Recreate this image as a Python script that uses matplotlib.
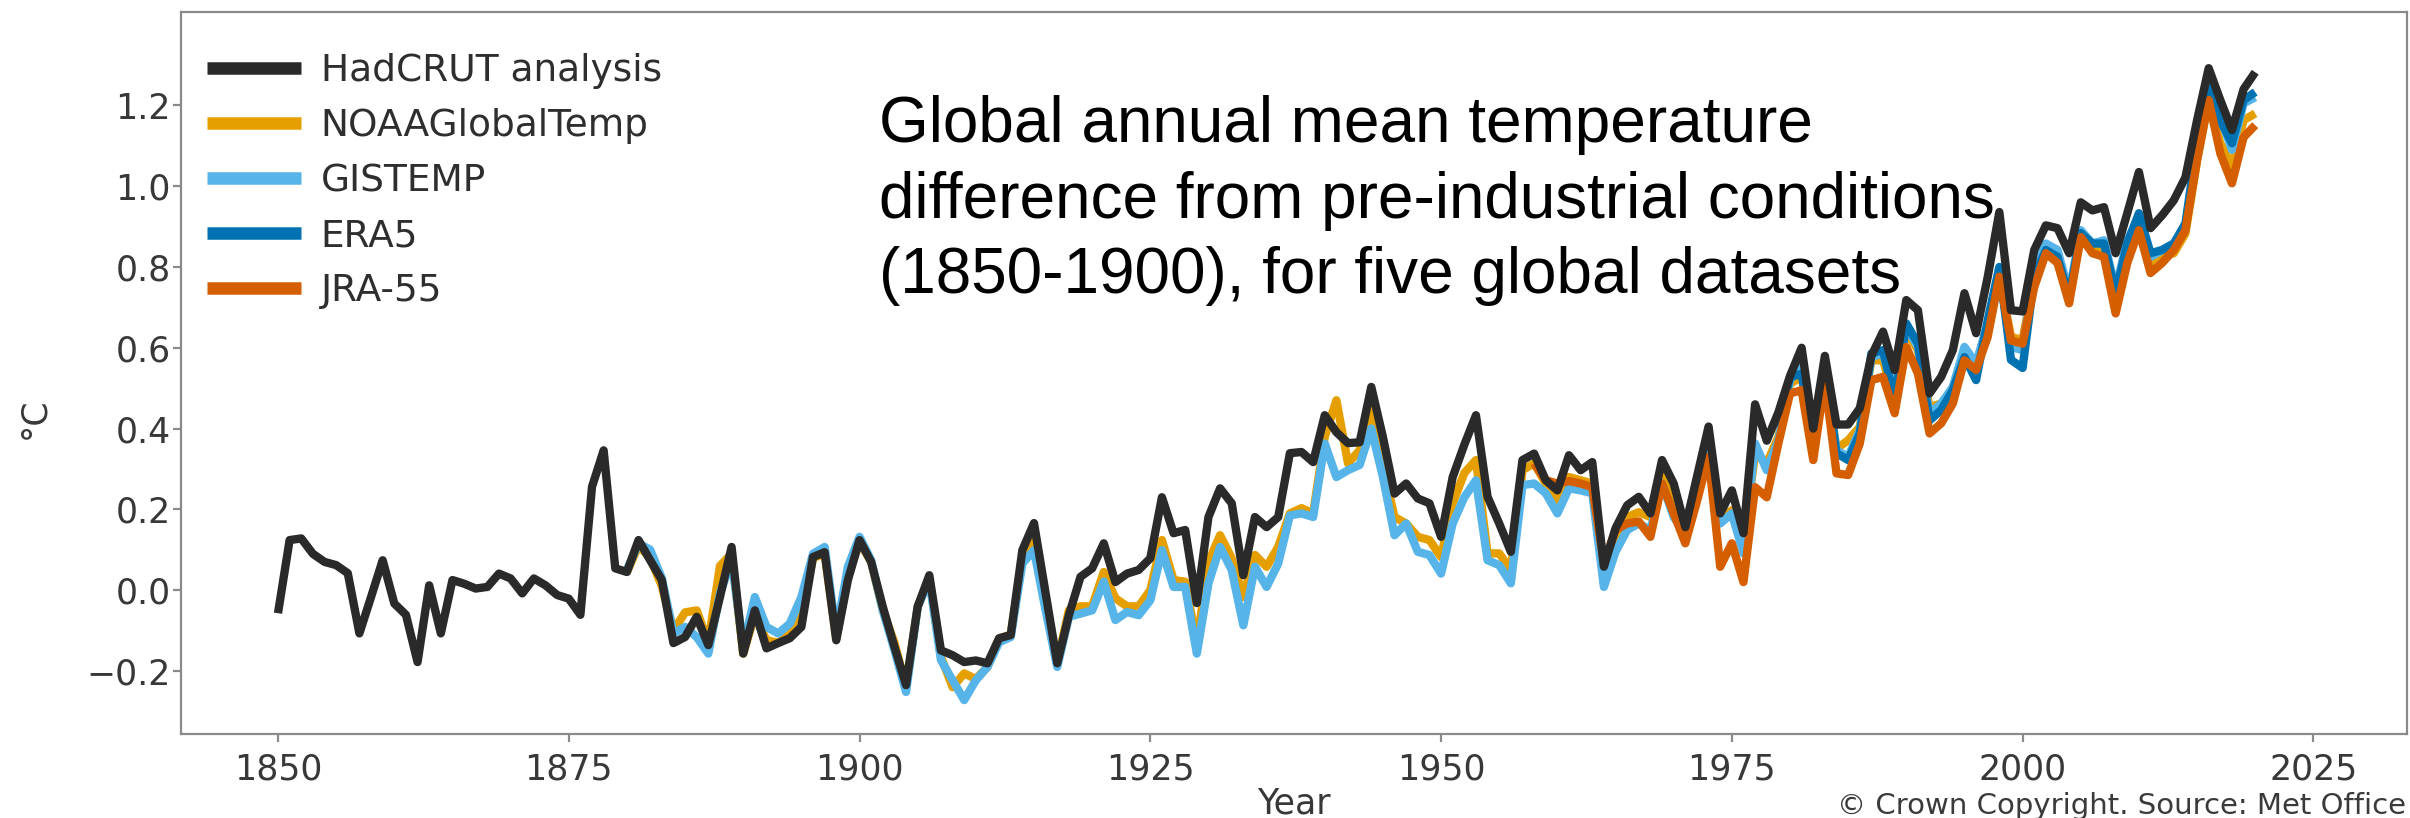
import numpy as np
import matplotlib
matplotlib.use("Agg")
from matplotlib import pyplot as plt

# annual anomalies vs 1850-1900 (degC)
had_years = np.arange(1850, 2021)
hadcrut = [
    -0.057, 0.124, 0.128, 0.090, 0.070, 0.062, 0.042, -0.107, -0.017, 0.074,
    -0.033, -0.061, -0.178, 0.012, -0.107, 0.025, 0.016, 0.004, 0.008, 0.041,
    0.029, -0.008, 0.029, 0.012, -0.012, -0.021, -0.061, 0.256, 0.346, 0.054,
    0.045, 0.124, 0.074, 0.025, -0.131, -0.116, -0.066, -0.136, -0.017, 0.107,
    -0.157, -0.050, -0.144, -0.131, -0.119, -0.091, 0.082, 0.094, -0.124, 0.025,
    0.124, 0.070, -0.041, -0.140, -0.235, -0.041, 0.037, -0.149, -0.161, -0.178,
    -0.174, -0.181, -0.119, -0.111, 0.099, 0.166, -0.008, -0.181, -0.062, 0.033,
    0.054, 0.116, 0.020, 0.041, 0.050, 0.079, 0.230, 0.141, 0.149, -0.032,
    0.181, 0.252, 0.215, 0.037, 0.181, 0.156, 0.181, 0.339, 0.342, 0.317,
    0.433, 0.391, 0.364, 0.366, 0.503, 0.379, 0.239, 0.264, 0.227, 0.215,
    0.132, 0.280, 0.360, 0.433, 0.231, 0.165, 0.095, 0.322, 0.338, 0.272,
    0.247, 0.334, 0.297, 0.317, 0.058, 0.153, 0.210, 0.231, 0.190, 0.322,
    0.264, 0.156, 0.280, 0.405, 0.190, 0.247, 0.141, 0.460, 0.370, 0.440,
    0.530, 0.600, 0.400, 0.580, 0.410, 0.410, 0.450, 0.580, 0.640, 0.545,
    0.718, 0.693, 0.487, 0.528, 0.594, 0.735, 0.636, 0.775, 0.936, 0.693,
    0.690, 0.842, 0.903, 0.896, 0.834, 0.960, 0.940, 0.948, 0.834, 0.933,
    1.035, 0.896, 0.928, 0.965, 1.022, 1.163, 1.292, 1.213, 1.139, 1.240,
    1.282,
]

obs_years = np.arange(1880, 2021)
noaa = [
    0.045, 0.110, 0.080, 0.010, -0.100, -0.055, -0.050, -0.130, 0.060, 0.090,
    -0.157, -0.060, -0.124, -0.130, -0.110, -0.060, 0.080, 0.090, -0.120, 0.035,
    0.120, 0.070, -0.050, -0.130, -0.240, -0.040, 0.030, -0.165, -0.240, -0.206,
    -0.220, -0.190, -0.120, -0.110, 0.080, 0.120, -0.030, -0.180, -0.050, -0.040,
    -0.040, 0.045, -0.020, -0.040, -0.040, 0.000, 0.124, 0.025, 0.021, -0.132,
    0.070, 0.136, 0.079, -0.017, 0.087, 0.058, 0.107, 0.190, 0.203, 0.190,
    0.380, 0.470, 0.314, 0.346, 0.453, 0.305, 0.181, 0.165, 0.132, 0.124,
    0.082, 0.215, 0.290, 0.322, 0.091, 0.091, 0.050, 0.297, 0.314, 0.264,
    0.223, 0.280, 0.272, 0.264, 0.033, 0.116, 0.181, 0.193, 0.181, 0.297,
    0.215, 0.149, 0.247, 0.346, 0.173, 0.198, 0.116, 0.339, 0.314, 0.379,
    0.511, 0.528, 0.363, 0.536, 0.350, 0.371, 0.404, 0.569, 0.569, 0.470,
    0.644, 0.594, 0.453, 0.462, 0.495, 0.594, 0.545, 0.652, 0.776, 0.627,
    0.619, 0.775, 0.842, 0.834, 0.725, 0.874, 0.842, 0.842, 0.710, 0.850,
    0.900, 0.800, 0.825, 0.834, 0.883, 1.064, 1.213, 1.106, 1.048, 1.163,
    1.180,
]
gistemp = [
    0.050, 0.116, 0.100, 0.030, -0.107, -0.091, -0.116, -0.157, -0.008, 0.074,
    -0.140, -0.017, -0.091, -0.107, -0.083, -0.017, 0.090, 0.107, -0.107, 0.058,
    0.132, 0.074, -0.050, -0.148, -0.252, -0.041, 0.025, -0.173, -0.223, -0.272,
    -0.223, -0.190, -0.129, -0.116, 0.066, 0.099, -0.050, -0.190, -0.066, -0.058,
    -0.050, 0.021, -0.074, -0.054, -0.062, -0.025, 0.099, 0.008, 0.008, -0.157,
    0.017, 0.107, 0.050, -0.087, 0.058, 0.008, 0.066, 0.185, 0.190, 0.181,
    0.363, 0.280, 0.297, 0.310, 0.400, 0.280, 0.136, 0.165, 0.095, 0.087,
    0.041, 0.165, 0.230, 0.272, 0.074, 0.062, 0.017, 0.260, 0.264, 0.240,
    0.190, 0.252, 0.247, 0.240, 0.008, 0.095, 0.149, 0.165, 0.149, 0.264,
    0.181, 0.140, 0.230, 0.340, 0.165, 0.190, 0.091, 0.363, 0.297, 0.371,
    0.520, 0.552, 0.371, 0.552, 0.346, 0.330, 0.396, 0.577, 0.586, 0.487,
    0.652, 0.602, 0.437, 0.462, 0.503, 0.602, 0.561, 0.660, 0.784, 0.602,
    0.594, 0.792, 0.858, 0.842, 0.735, 0.891, 0.858, 0.866, 0.743, 0.866,
    0.924, 0.825, 0.842, 0.858, 0.900, 1.090, 1.245, 1.171, 1.090, 1.205,
    1.220,
]

era5_years = np.arange(1979, 2021)
era5 = [
    0.404, 0.527, 0.536, 0.363, 0.545, 0.339, 0.322, 0.388, 0.586, 0.594,
    0.470, 0.660, 0.610, 0.420, 0.446, 0.495, 0.577, 0.520, 0.668, 0.800,
    0.570, 0.550, 0.775, 0.842, 0.825, 0.725, 0.884, 0.858, 0.858, 0.735,
    0.858, 0.933, 0.834, 0.842, 0.858, 0.908, 1.106, 1.262, 1.163, 1.106,
    1.213, 1.233,
]

jra_years = np.arange(1958, 2021)
jra55 = [
    0.314, 0.272, 0.264, 0.270, 0.264, 0.255, 0.066, 0.149, 0.165, 0.170,
    0.132, 0.264, 0.190, 0.116, 0.220, 0.330, 0.058, 0.116, 0.020, 0.255,
    0.230, 0.363, 0.487, 0.495, 0.322, 0.520, 0.289, 0.285, 0.363, 0.520,
    0.528, 0.438, 0.602, 0.536, 0.388, 0.413, 0.462, 0.569, 0.545, 0.627,
    0.776, 0.618, 0.610, 0.750, 0.834, 0.810, 0.710, 0.874, 0.834, 0.825,
    0.685, 0.810, 0.891, 0.785, 0.810, 0.842, 0.891, 1.064, 1.213, 1.081,
    1.007, 1.121, 1.151,
]

series = [
    ("NOAAGlobalTemp", obs_years, noaa, "#E69F00"),
    ("GISTEMP", obs_years, gistemp, "#56B4E9"),
    ("ERA5", era5_years, era5, "#0072B2"),
    ("JRA-55", jra_years, jra55, "#D55E00"),
    ("HadCRUT analysis", had_years, hadcrut, "#2a2a2a"),
]
legend_order = ["HadCRUT analysis", "NOAAGlobalTemp", "GISTEMP", "ERA5", "JRA-55"]

fig = plt.figure(figsize=(24.1, 8.18), dpi=100)
ax = fig.add_axes([0.0751, 0.1027, 0.9237, 0.8826])

lines = {}
for name, yrs, vals, col in series:
    ln, = ax.plot(yrs, vals, color=col, lw=6, solid_joinstyle="round",
                  solid_capstyle="butt", label=name)
    lines[name] = ln

ax.set_xlim(1841.66, 2033.06)
ax.set_ylim(-0.356, 1.431)
ax.set_xticks([1850, 1875, 1900, 1925, 1950, 1975, 2000, 2025])
yt = np.round(np.arange(-0.2, 1.21, 0.2), 1)
ax.set_yticks(yt)
ax.set_yticklabels([f"{v:.1f}".replace("-", "\u2212") for v in yt])

grey = "#8a8a8a"
for s in ax.spines.values():
    s.set_color(grey)
    s.set_linewidth(1.6)
ax.tick_params(axis="both", colors=grey, length=6, width=1.6,
               labelcolor="#383838", labelsize=25)
ax.tick_params(axis="x", pad=7)
ax.tick_params(axis="y", pad=1.5)

ax.set_xlabel("Year", fontsize=25, color="#383838", labelpad=0)
ax.set_ylabel("°C", fontsize=25, color="#383838", va="center", ha="center")
ax.yaxis.set_label_coords(-0.066, 0.438)

leg = ax.legend([lines[n] for n in legend_order], legend_order,
                loc="upper left", bbox_to_anchor=(0.0117, 0.9435),
                frameon=False, fontsize=27, handlelength=2.5,
                handletextpad=0.53, labelspacing=0.51,
                borderpad=0, borderaxespad=0)
for h in leg.get_lines():
    h.set_linewidth(9)
for t in leg.get_texts():
    t.set_color("#2e2e2e")

ax.text(1901.7, 0.735,
        "Global annual mean temperature\n"
        "difference from pre-industrial conditions\n"
        "(1850-1900), for five global datasets",
        fontsize=46, family="Liberation Sans", color="black",
        ha="left", va="baseline", linespacing=1.33)

fig.text(0.9983, 1 - 814 / 818, "© Crown Copyright. Source: Met Office",
         fontsize=21, color="#3a3a3a", ha="right", va="baseline")

fig.savefig("out.png", dpi=100)
